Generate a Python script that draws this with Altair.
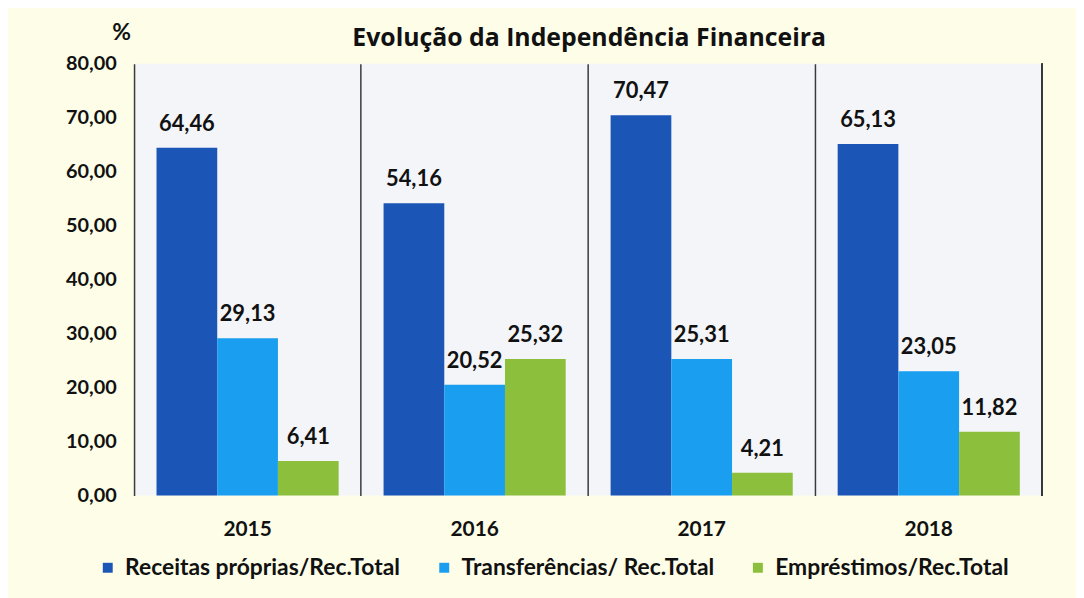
import altair as alt
import pandas as pd

years = ["2015", "2016", "2017", "2018"]
series = ["Receitas próprias/Rec.Total", "Transferências/ Rec.Total", "Empréstimos/Rec.Total"]
receitas = [64.46, 54.16, 70.47, 65.13]
transf = [29.13, 20.52, 25.31, 23.05]
emprest = [6.41, 25.32, 4.21, 11.82]
colors = ["#1b56b6", "#1a9ef0", "#8cbf3b"]

rows = []
for i, y in enumerate(years):
    for s, vals in zip(series, [receitas, transf, emprest]):
        rows.append({"ano": y, "serie": s, "valor": vals[i]})
df = pd.DataFrame(rows)

FONT = "Lato"
W, H = 915, 435

base = alt.Chart(df).transform_calculate(
    label="replace(format(datum.valor, '.2f'), '.', ',')"
)

xenc = alt.X("ano:N", sort=years,
             scale=alt.Scale(paddingInner=0, paddingOuter=0),
             axis=alt.Axis(title=None, labelAngle=0, ticks=False, domain=False,
                           grid=True, bandPosition=0, gridColor="#3a3a3a", gridWidth=1.5,
                           labelFont=FONT, labelFontSize=21, labelFontWeight="bold",
                           labelColor="#111", labelPadding=23))
xoff = alt.XOffset("serie:N", sort=series,
                   scale=alt.Scale(paddingInner=0, paddingOuter=0.37))
yenc = alt.Y("valor:Q", scale=alt.Scale(domain=[0, 80]),
             axis=alt.Axis(values=[0, 10, 20, 30, 40, 50, 60, 70, 80],
                           labelExpr="replace(format(datum.value, '.2f'), '.', ',')",
                           ticks=False, domain=False, grid=False,
                           labelFont=FONT, labelFontSize=20, labelFontWeight="bold",
                           labelColor="#111", labelPadding=18,
                           title="%", titleAngle=0, titleX=-13, titleY=-24,
                           titleAlign="center", titleBaseline="alphabetic",
                           titleFont=FONT, titleFontSize=23, titleFontWeight="bold",
                           titleColor="#111"))

bars = base.mark_bar().encode(
    x=xenc, xOffset=xoff, y=yenc,
    color=alt.Color("serie:N", sort=series,
                    scale=alt.Scale(domain=series, range=colors),
                    legend=alt.Legend(title=None, orient="none", direction="horizontal",
                                      legendX=-38, legendY=496,
                                      symbolType="square", symbolSize=100,
                                      symbolStrokeWidth=0, labelFont=FONT,
                                      labelFontSize=23, labelFontWeight="bold",
                                      labelColor="#111", columnPadding=32,
                                      labelOffset=6, labelLimit=400)),
)

labels = base.mark_text(font=FONT, fontSize=22, fontWeight="bold", color="#111",
                        baseline="alphabetic", dy=-17).encode(
    x=alt.X("ano:N", sort=years), xOffset=alt.XOffset("serie:N", sort=series),
    y="valor:Q", text="label:N")

right = alt.Chart(df).mark_rule(color="#3a3a3a", strokeWidth=1.5).encode(
    x=alt.value(W), y=alt.value(0), y2=alt.value(H))

chart = alt.layer(bars, labels, right).properties(
    width=W, height=H,
    title=alt.Title("Evolução da Independência Financeira", font="Open Sans", fontSize=25,
                    fontWeight="bold", color="#111", anchor="middle", dx=1,
                    offset=14, dy=43),
    autosize=alt.AutoSizeParams(type="none"),
    padding={"left": 127, "top": 54, "right": 34, "bottom": 101},
    background="#fdfde8",
).configure_view(fill="#f3f5f9", stroke=None)

chart.save("out.html", embed_options={"renderer": "svg", "actions": False})
